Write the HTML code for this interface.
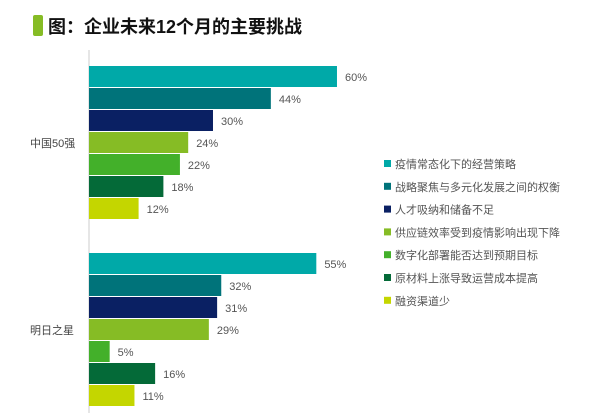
<!DOCTYPE html>
<html><head><meta charset="utf-8"><style>
body{margin:0;background:#fff;font-family:"Liberation Sans","Noto Sans CJK SC",sans-serif;}
</style></head><body>
<svg id="c" width="600" height="413" xmlns="http://www.w3.org/2000/svg">
<rect x="33" y="15" width="10" height="21" rx="2" fill="#86BC25"/>
<text x="48" y="33" font-size="18" font-weight="bold" fill="#111" font-family="Liberation Sans,Noto Sans CJK SC,sans-serif">图：企业未来12个月的主要挑战</text>
<line x1="89" y1="50" x2="89" y2="413" stroke="#ccc" stroke-width="1"/>
<g id="bars"></g><g id="legend"></g>
</svg>
<script>
const groups = ["中国50强", "明日之星"];
const seriesNames = ["疫情常态化下的经营策略","战略聚焦与多元化发展之间的权衡","人才吸纳和储备不足","供应链效率受到疫情影响出现下降","数字化部署能否达到预期目标","原材料上涨导致运营成本提高","融资渠道少"];
const china50 = [60, 44, 30, 24, 22, 18, 12];
const stars = [55, 32, 31, 29, 5, 16, 11];
const colors = ["#00A9A8","#00737A","#0A2063","#86BC25","#43B02A","#046A38","#C4D600"];
const values = [china50, stars];
const NS="http://www.w3.org/2000/svg";
const x = v => 89 + v * 4.133;
const groupTop = [66, 253];
const y = (g, i) => groupTop[g] + i * 22;
const bars = document.getElementById('bars');
values.forEach((vals, g) => {
  vals.forEach((v, i) => {
    const r = document.createElementNS(NS,'rect');
    r.setAttribute('x', 89); r.setAttribute('y', y(g,i));
    r.setAttribute('width', x(v)-89); r.setAttribute('height', 21);
    r.setAttribute('fill', colors[i]);
    
    
    bars.appendChild(r);
    const t = document.createElementNS(NS,'text');
    t.setAttribute('x', x(v)+8); t.setAttribute('y', y(g,i)+15);
    t.setAttribute('font-size', 11); t.setAttribute('fill', '#555');
    t.textContent = v + '%';
    
    
    bars.appendChild(t);
  });
  const c = document.createElementNS(NS,'text');
  c.setAttribute('x', 30); c.setAttribute('y', y(g,3)+15);
  c.setAttribute('font-size', 11); c.setAttribute('fill', '#444');
  c.textContent = groups[g];
  
  
  bars.appendChild(c);
});
const leg = document.getElementById('legend');
seriesNames.forEach((n, i) => {
  const g = document.createElementNS(NS,'g');
  
  
  const ly = 160 + i * 22.8;
  const s = document.createElementNS(NS,'rect');
  s.setAttribute('x', 384); s.setAttribute('y', ly); s.setAttribute('width', 7); s.setAttribute('height', 7);
  s.setAttribute('fill', colors[i]);
  g.appendChild(s);
  const t = document.createElementNS(NS,'text');
  t.setAttribute('x', 395); t.setAttribute('y', ly + 8);
  t.setAttribute('font-size', 11); t.setAttribute('fill', '#555');
  t.textContent = n;
  g.appendChild(t);
  leg.appendChild(g);
});
</script>
</body></html>
